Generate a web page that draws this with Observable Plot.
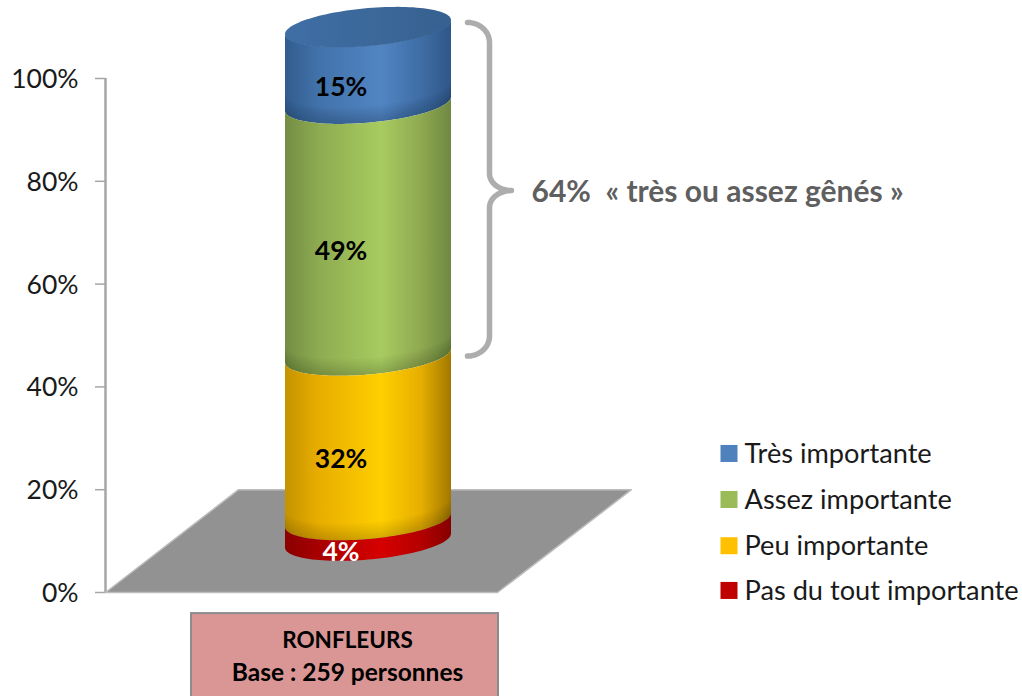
<!DOCTYPE html>
<html>
<head>
<meta charset="utf-8">
<script src="https://cdn.jsdelivr.net/npm/d3@7"></script>
<script src="https://cdn.jsdelivr.net/npm/@observablehq/plot@0.6"></script>
<style>html,body{margin:0;padding:0;background:#fff}svg{display:block}</style>
</head>
<body>
<div id="chart"></div>
<script>
// Data
const categories = ["Pas du tout importante", "Peu importante", "Assez importante", "Très importante"];
const values = [4, 32, 49, 15];
const colors = ["#c00000", "#ffc000", "#9bbb59", "#4f81bd"];
const labelColors = ["#fff", "#000", "#000", "#000"];
const yTicks = [0, 20, 40, 60, 80, 100];
const legendOrder = ["Très importante", "Assez importante", "Peu importante", "Pas du tout importante"];
const legendLevels = [27.05, 18.1, 9.1, 0.4];
const floorX = [105, 238, 631, 497, 105];
const floorY = [0, 20, 20, 0, 0];
const baseBoxX = [191, 498];
const baseBoxY = [-4.1, -21];
const baseLines = ["RONFLEURS", "Base : 259 personnes"];
const baseLineLevels = [-9.4, -15.6];
const baseLineSizes = [22.5, 24.5];
const callout = "64%\u00a0 « très ou assez gênés »";
const gradients = [
  ["#8a0000", "#a80000", "#d60000", "#b40000", "#850000"],
  ["#c49300", "#e8ad00", "#ffcf00", "#e6ae00", "#a17800"],
  ["#738d44", "#8dab50", "#a8cb60", "#8ea950", "#6f8842"],
  ["#315c8e", "#4272aa", "#5185c2", "#3f6da5", "#2f5788"]
];
const bevelBands = [0.4, 0.8, 1.2, 1.6, 2, 2.4, 2.8, 3.2];

// Cylinder geometry in scale units (x = px-like units, y = percent units)
const cx = 368, a = 83, yUnit = 5.14;
const lift = 10, rise = 19 / yUnit, tilt = 7 / yUnit;
const angles = d3.range(0, 61).map(i => Math.PI * i / 60);
const front = (c, t) => c + lift - rise * Math.sin(t) + tilt * Math.cos(t);
const back = (c, t) => c + lift + rise * Math.sin(t) + tilt * Math.cos(t);
const xAt = t => cx + a * Math.cos(t);

const cum = [];
values.reduce((s, v, i) => (cum[i] = [s, s + v], s + v), 0);
const segments = categories.map((name, i) => ({
  name, i, lo: cum[i][0], hi: cum[i][1],
  pts: angles.map(t => ({x: xAt(t), lo: front(cum[i][0], t), hi: front(cum[i][1], t)}))
}));
const total = cum[cum.length - 1][1];
const cap = angles.map(t => ({x: xAt(t), lo: front(total - 0.1, t), hi: back(total - 0.1, t)}));

// Brace: quarter arcs joined by straight runs
function arc(x0, y0, rx, ry, from, to) {
  return d3.range(0, 17).map(i => {
    const t = from + (to - from) * i / 16;
    return {x: x0 + rx * Math.cos(t), y: y0 + ry * Math.sin(t)};
  });
}
const P = Math.PI;
const braceTop = 110.9, braceMid = 78.2, braceBottom = 46;
const ryc = 20 / yUnit, ryt = 17 / yUnit;
const brace = [
  ...arc(467, braceTop - ryc, 22, ryc, P / 2, 0),
  ...arc(511, braceMid + ryt, 22, ryt, P, 3 * P / 2),
  ...arc(511, braceMid - ryt, 22, ryt, P / 2, P),
  ...arc(467, braceBottom + ryc, 22, ryc, 0, -P / 2)
];

const barMarks = [];
for (let i = segments.length - 1; i >= 0; --i) {
  const s = segments[i];
  barMarks.push(Plot.area(s.pts, {x1: "x", y1: "lo", y2: "hi", fill: `url(#cyl${i})`}));
  if (i > 0) {
    for (const h of bevelBands) {
      barMarks.push(Plot.area(angles.map(t => ({x: xAt(t), lo: front(s.lo, t), hi: front(s.lo + h, t)})),
        {x1: "x", y1: "lo", y2: "hi", fill: "#000", fillOpacity: 0.018}));
    }
  }
}

const chart = Plot.plot({
  width: 1022,
  height: 696,
  marginLeft: 105,
  marginRight: 0,
  marginTop: 78,
  marginBottom: 104,
  style: {fontFamily: "Lato, sans-serif", background: "#fff", overflow: "visible"},
  x: {domain: [105, 1022], axis: null},
  y: {domain: [0, 100], axis: null},
  color: {domain: categories, range: colors},
  marks: [
    Plot.axisY({ticks: yTicks, tickFormat: d => d + "%", tickSize: 0, tickPadding: 27, fontSize: 26.5,
      fill: "#1a1a1a", label: null, dy: 1}),
    Plot.ruleY(yTicks, {x1: 95, x2: 105, stroke: "#a6a6a6", strokeWidth: 1.5}),
    Plot.ruleX([105], {y1: 0, y2: 100, stroke: "#a6a6a6", strokeWidth: 2.5}),
    Plot.line(floorX.map((x, i) => ({x, y: floorY[i]})), {x: "x", y: "y", fill: "#929292", stroke: "#bdbdbd", strokeWidth: 1.5}),
    ...barMarks,
    Plot.area(cap, {x1: "x", y1: "lo", y2: "hi", fill: "url(#cylcap)"}),
    Plot.text(segments, {x: 340.5, y: d => (d.lo + d.hi) / 2 + 6, text: d => values[d.i] + "%", dy: 1,
      fill: d => labelColors[d.i], fontSize: 26.5, fontWeight: 700}),
    Plot.line(brace, {x: "x", y: "y", stroke: "#adadad", strokeWidth: 5.5, curve: "linear"}),
    Plot.text([callout], {x: 531, y: 78.2, dy: 2, text: d => d, textAnchor: "start", fill: "#5f5f5f", fontSize: 30, fontWeight: 700}),
    Plot.rect([0], {x1: baseBoxX[0], x2: baseBoxX[1], y1: baseBoxY[0], y2: baseBoxY[1], fill: "#d99694", stroke: "#8c8c8c", strokeWidth: 2}),
    Plot.text(baseLines, {x: 347, y: (d, i) => baseLineLevels[i], text: d => d, fill: "#000", fontSize: (d, i) => baseLineSizes[i], fontWeight: 700}),
    Plot.dot(legendOrder, {x: 728.5, y: (d, i) => legendLevels[i], r: 9.6, symbol: "square", fill: d => d}),
    Plot.text(legendOrder, {x: 744, y: (d, i) => legendLevels[i], dy: 1, text: d => d, textAnchor: "start", fill: "#1a1a1a", fontSize: 27.2})
  ]
});

const stops = g => {
  const o = [0, 0.2, 0.58, 0.82, 1];
  return g.map((c, j) => `<stop offset="${o[j]}" stop-color="${c}"/>`).join("");
};
const defs = gradients.map((g, i) => `<linearGradient id="cyl${i}" x1="0" x2="1" y1="0" y2="0">${stops(g)}</linearGradient>`).join("")
  + `<linearGradient id="cylcap" x1="0" x2="1" y1="0" y2="0"><stop offset="0" stop-color="#3f6ea6"/><stop offset="0.6" stop-color="#3b6798"/><stop offset="1" stop-color="#35608f"/></linearGradient>`;
chart.insertAdjacentHTML("afterbegin", `<defs>${defs}</defs>`);
document.getElementById("chart").appendChild(chart);
</script>
</body>
</html>
